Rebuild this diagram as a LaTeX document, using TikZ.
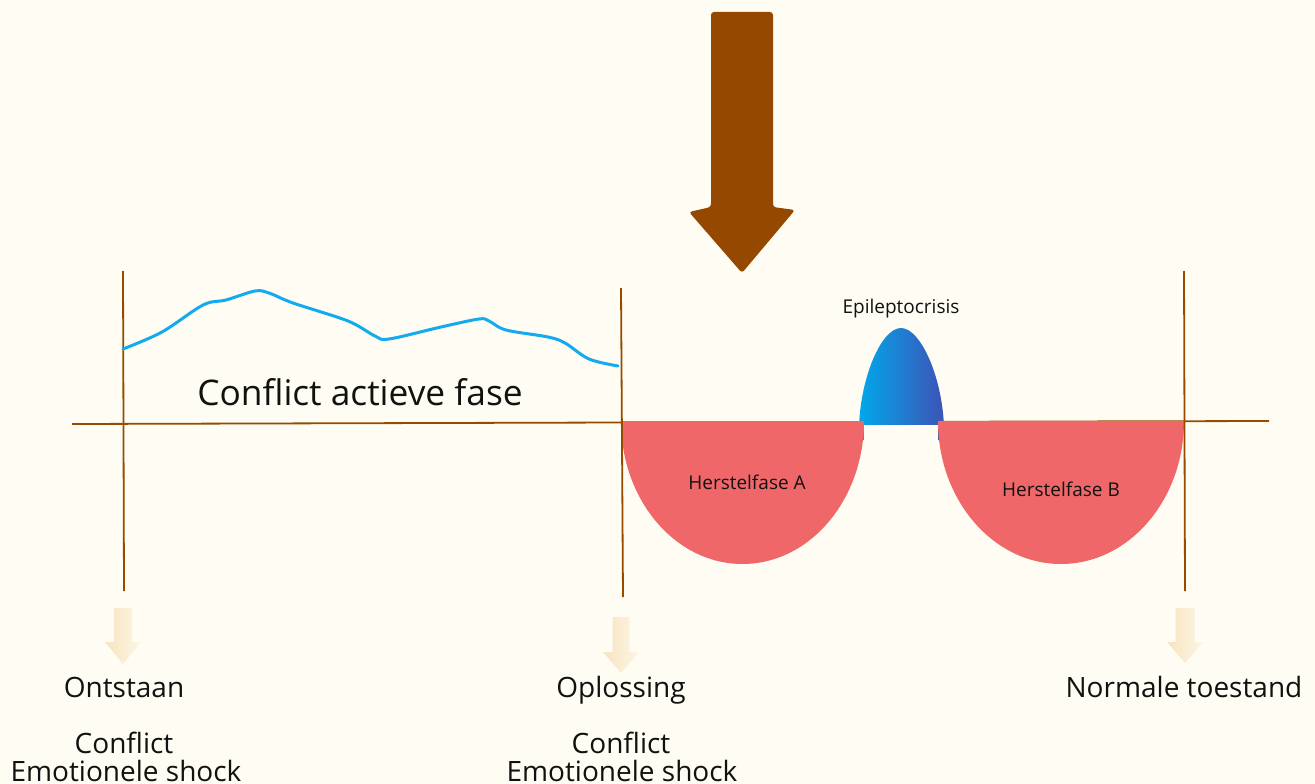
\documentclass[tikz,border=0pt]{standalone}
\usepackage{fontspec}
\setmainfont{Open Sans}
\definecolor{bg}{RGB}{255,253,243}
\definecolor{brn}{RGB}{150,75,0}
\definecolor{bigarrow}{RGB}{148,72,0}
\definecolor{rosy}{RGB}{240,103,106}
\definecolor{wave}{RGB}{20,170,240}
\definecolor{eggL}{RGB}{0,170,235}
\definecolor{eggR}{RGB}{63,81,181}
\definecolor{paleL}{RGB}{246,228,192}
\definecolor{paleR}{RGB}{253,246,228}
\definecolor{ink}{RGB}{17,17,17}
\begin{document}
\begin{tikzpicture}[x=1pt,y=-1pt,
  axis/.style={draw=brn,line width=1.8pt},
  lbl/.style={text=ink,inner sep=0pt,anchor=base,font=\fontsize{28}{31}\selectfont},
  small/.style={text=ink,inner sep=0pt,font=\fontsize{19}{21}\selectfont},
  palearrow/.style={left color=paleL,right color=paleR,draw=none}]
\fill[bg] (0,0) rectangle (1315,784);
\useasboundingbox (0,0) rectangle (1315,784);
% big arrow
\fill[bigarrow,rounded corners=3pt] (711,12) -- (773,12) -- (773,207) -- (795,210) -- (742,273) -- (689,212) -- (711,207) -- cycle;
% horizontal axis (below the shapes)
\coordinate (hl) at (72,424);
\coordinate (hm) at (621,422.5);
\coordinate (hr) at (1269,421);
\draw[axis] (hl) -- (hm) -- (hr);
% egg
\shade[left color=eggL,right color=eggR] (859,440) .. controls (857,385) and (880,328) .. (901,328) .. controls (922,328) and (946,385) .. (944,440) -- cycle;
% red half ellipses
\fill[rosy] (621,421) -- (864,421) arc[start angle=0,end angle=-180,x radius=121.5,y radius=-143] -- cycle;
\fill[rosy] (938,421) -- (1184,421) arc[start angle=0,end angle=-180,x radius=123,y radius=-143] -- cycle;
\fill[bg] (864,425) rectangle (938,470);
% vertical lines
\coordinate (v1t) at (123,271); \coordinate (v1b) at (124,591);
\coordinate (v2t) at (621,288); \coordinate (v2b) at (623,597);
\coordinate (v3t) at (1184,271); \coordinate (v3b) at (1185,591);
\draw[axis] (v1t) -- (v1b);
\draw[axis] (v2t) -- (v2b);
\draw[axis] (v3t) -- (v3b);
% wave
\draw[wave,line width=3pt,line cap=round] plot[smooth,tension=0.55] coordinates {
 (123,349) (162,332) (203,305) (226,300) (255,291) (269,293) (293,303) (348,321) (375,336) (389,339) (441,327) (479,319) (489,321) (506,330) (548,337) (565,343) (589,359) (618,366)};
% pale arrows
\foreach \cx/\top/\htop/\tip/\hw/\sw in {123/608/642/664/18/9, 621/617/652/673/18/8.5, 1185/608/642/663/18/9.5}{
  \shade[palearrow] (\cx-\sw,\top) -- (\cx+\sw,\top) -- (\cx+\sw,\htop) -- (\cx+\hw,\htop) -- (\cx,\tip) -- (\cx-\hw,\htop) -- (\cx-\sw,\htop) -- cycle;
}
% texts
\node[text=ink,inner sep=0pt,anchor=base,font=\fontsize{35.3}{38}\selectfont] (caf) at (360,405) {Conflict actieve fase};
\node[small] (ha) at (747,482) {Herstelfase A};
\node[small] (hb) at (1061,489) {Herstelfase B};
\node[small] (ep) at (901,309) {Epileptocrisis};
\node[lbl] (o1) at (124,697) {Ontstaan};
\node[lbl] (o2) at (621,697) {Oplossing};
\node[lbl] (o3) at (1184,697) {Normale toestand};
\node[lbl] (c1) at (124,753) {Conflict};
\node[lbl] (e1) at (126,781) {Emotionele shock};
\node[lbl] (c2) at (621,753) {Conflict};
\node[lbl] (e2) at (622,781) {Emotionele shock};
\end{tikzpicture}
\end{document}
